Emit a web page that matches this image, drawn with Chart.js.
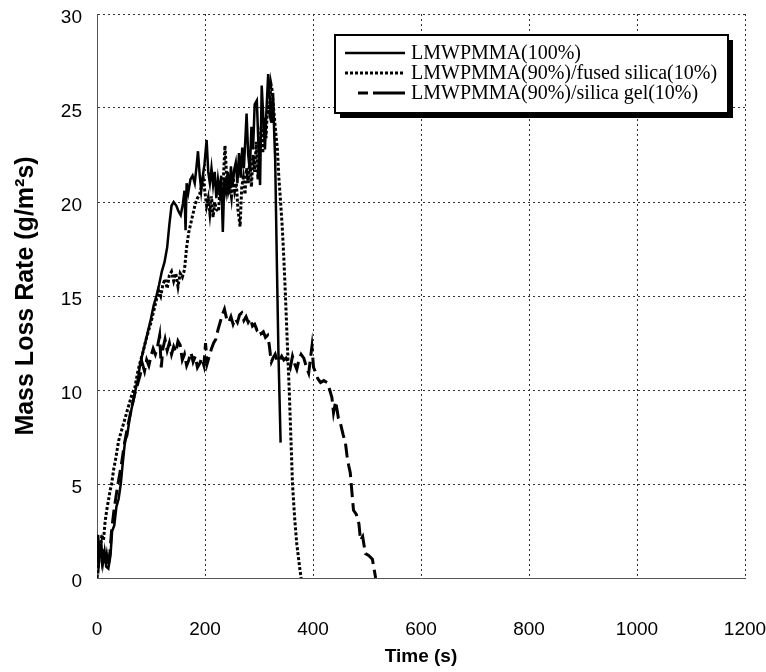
<!DOCTYPE html>
<html lang="en">
<head>
  <meta charset="UTF-8">
  <title>Mass loss rate</title>
  <script src="https://cdn.jsdelivr.net/npm/chart.js@4.4.0/dist/chart.umd.min.js"></script>
  <style>
    body { margin: 0; background: #fff; }
    #wrap { width: 766px; height: 672px; }
  </style>
</head>
<body>
<div id="wrap">
  <canvas id="chart" width="766" height="672"></canvas>
</div>

<script>
// time (s) and mass loss rate (g/m2s)
const pureT = [0,2,5,8,11,14,17,21,25,28,32,36,40,44,48,52,56,60,64,68,72,76,80,85,90,95,100,105,110,115,120,125,130,134,138,142,147,151,155,159,162,164,166,169,173,177,181,184,187,190,193,196,199,203,206,209,212,215,218,221,224,227,230,233,236,239,242,245,248,251,254,257,260,263,266,269,272,275,277,280,283,286,289,292,296,299,302,305,308,311,314,317,320,323,326,328,330,333,336,340];
const pureY = [1.0,2.3,1.2,1.8,0.8,1.4,0.6,0.5,1.2,2.5,2.8,3.8,4.2,5.0,6.2,7.3,7.6,8.4,9.0,9.5,10.1,10.6,11.4,12.0,12.6,13.2,13.8,14.5,15.0,15.6,16.3,16.8,17.6,18.8,19.8,20.0,19.8,19.5,19.3,19.9,20.6,18.5,21.0,20.5,21.2,21.4,21.0,21.8,22.7,21.5,20.6,21.4,22.0,23.3,21.6,21.0,21.8,20.9,21.6,20.2,21.2,20.5,21.4,18.4,21.3,20.6,21.6,20.4,21.9,20.8,21.7,22.1,21.0,22.6,21.3,22.9,21.8,23.5,24.7,22.5,21.7,24.0,22.8,25.2,25.4,23.0,20.9,26.2,24.5,22.8,25.0,26.8,25.5,24.2,25.8,23.8,22.2,16.9,12.0,7.2];

const fusedT = [0,3,6,9,12,15,18,21,24,27,31,35,40,45,50,55,60,65,70,75,80,85,90,95,100,105,110,114,118,122,126,130,134,138,142,146,150,154,158,162,166,170,174,178,182,186,190,194,197,200,203,206,209,212,215,218,221,225,228,231,234,237,240,243,246,249,252,255,258,261,265,268,271,274,277,280,283,286,289,292,295,298,301,304,307,310,313,316,319,322,324,327,330,334,337,340,343,346,349,352,356,359,362,366,370,373,376,378];
const fusedY = [0.0,0.8,1.5,2.3,2.0,3.0,3.6,4.1,4.6,5.0,5.8,6.4,7.3,7.8,8.3,8.8,9.3,9.8,10.1,10.9,11.5,12.0,12.6,13.1,13.6,14.2,14.8,15.3,15.0,15.6,15.9,15.4,16.1,16.3,15.8,16.2,15.5,16.2,16.0,16.4,17.6,18.4,18.9,19.4,19.9,20.2,20.4,20.9,21.2,20.5,19.8,20.2,19.4,20.3,19.2,20.0,19.6,19.5,20.8,20.0,21.2,23.0,21.4,20.6,21.0,20.3,21.4,20.6,21.0,19.6,18.7,20.8,21.3,20.4,21.8,21.0,22.3,20.8,22.5,21.6,23.2,21.2,22.8,24.0,22.6,24.5,23.4,25.2,24.8,26.3,26.0,25.0,24.0,22.8,21.2,20.0,18.7,17.0,15.0,12.8,10.0,7.5,5.0,3.2,1.8,1.1,0.4,0.0];

const gelT = [0,3,6,9,12,15,18,21,24,27,31,35,40,45,50,55,60,65,70,75,80,84,88,92,96,100,104,108,112,116,119,122,126,130,134,138,142,146,150,154,158,162,166,170,174,178,182,186,190,194,198,201,204,208,212,216,220,224,228,232,236,240,244,248,252,256,260,264,268,272,276,280,284,288,292,296,300,304,308,312,316,319,321,323,326,330,334,338,342,346,350,354,358,362,366,370,374,378,383,388,392,395,398,401,404,409,414,420,426,431,435,438,442,447,451,456,460,463,466,469,472,475,480,485,488,492,497,503,510,513,516];
const gelY = [1.5,0.8,1.8,1.0,1.6,0.7,1.2,0.6,1.4,2.5,3.5,4.3,5.2,6.0,7.0,7.8,8.5,9.2,9.8,10.3,10.8,11.4,11.0,11.6,11.3,11.8,12.2,11.9,12.3,12.9,11.2,12.2,12.7,12.1,12.5,11.9,12.3,12.0,12.6,12.4,11.6,11.9,11.3,11.6,12.0,11.5,11.8,11.2,11.4,11.7,11.3,12.5,11.4,11.8,12.2,12.5,12.7,13.2,13.6,14.0,14.3,13.8,13.6,13.9,13.5,13.8,13.6,14.0,14.1,13.7,13.9,13.6,13.8,13.4,13.5,13.2,13.3,13.0,13.1,12.8,12.9,12.4,11.9,11.5,11.7,11.9,11.5,11.6,11.8,11.6,11.7,11.5,11.2,11.8,11.4,11.1,11.6,11.9,11.7,11.2,10.9,11.6,12.3,11.2,11.0,10.6,10.4,10.5,10.4,10.0,9.6,8.8,9.4,8.5,8.2,7.6,7.2,6.5,6.0,5.6,4.6,3.6,3.4,2.9,2.0,2.2,1.3,1.2,1.0,0.5,0.0];

const seriesNames = ['LMWPMMA(100%)', 'LMWPMMA(90%)/fused silica(10%)', 'LMWPMMA(90%)/silica gel(10%)'];
const xTicks = [0, 200, 400, 600, 800, 1000, 1200];
const yTicks = [0, 5, 10, 15, 20, 25, 30];

function toPoints(t, y) {
  return t.map((v, i) => ({ x: v, y: y[i] }));
}

// legend drawn as a boxed panel with a drop shadow, like the original
const legendBox = {
  id: 'legendBox',
  afterDatasetsDraw(chart) {
    const ctx = chart.ctx;
    const x = 335, y = 35, w = 393, h = 78;
    const legendDash = [[], [3, 2], [10, 5, 40, 5]];
    const lineStart = [345, 345, 358];
    ctx.save();
    ctx.fillStyle = '#000';
    ctx.fillRect(x + 5, y + 5, w, h);
    ctx.fillStyle = '#fff';
    ctx.fillRect(x, y, w, h);
    ctx.lineWidth = 2;
    ctx.strokeStyle = '#000';
    ctx.strokeRect(x, y, w, h);
    ctx.font = '20px "Liberation Serif", "Times New Roman", serif';
    ctx.textBaseline = 'middle';
    ctx.fillStyle = '#000';
    chart.data.datasets.forEach((ds, i) => {
      const ly = y + 18 + i * 20;
      ctx.lineWidth = ds.borderWidth;
      ctx.setLineDash(legendDash[i]);
      ctx.beginPath();
      ctx.moveTo(lineStart[i], ly);
      ctx.lineTo(405, ly);
      ctx.stroke();
      ctx.setLineDash([]);
      ctx.fillText(ds.label, 411, ly + 1);
    });
    ctx.restore();
  }
};

const gridStyle = { color: '#333', lineWidth: 1, drawTicks: false };
const borderStyle = { color: '#555', width: 1, dash: [2, 3] };
const tickFont = { family: '"Liberation Sans", Arial, sans-serif', size: 19 };

new Chart(document.getElementById('chart'), {
  type: 'line',
  data: {
    datasets: [
      {
        label: seriesNames[0],
        data: toPoints(pureT, pureY),
        borderColor: '#000',
        borderWidth: 2.5,
        pointRadius: 0,
        tension: 0,
        fill: false
      },
      {
        label: seriesNames[1],
        data: toPoints(fusedT, fusedY),
        borderColor: '#000',
        borderWidth: 3,
        borderDash: [3, 2],
        pointRadius: 0,
        tension: 0,
        fill: false
      },
      {
        label: seriesNames[2],
        data: toPoints(gelT, gelY),
        borderColor: '#000',
        borderWidth: 3,
        borderDash: [14, 6],
        pointRadius: 0,
        tension: 0,
        fill: false
      }
    ]
  },
  options: {
    responsive: false,
    animation: false,
    layout: { padding: { top: 14, right: 21, left: 0, bottom: 0 } },
    plugins: {
      legend: { display: false },
      tooltip: { enabled: false }
    },
    scales: {
      x: {
        type: 'linear',
        min: 0,
        max: 1200,
        afterBuildTicks: (s) => { s.ticks = xTicks.map(v => ({ value: v })); },
        afterFit: (s) => { s.height = 94; s.paddingLeft = 0; s.paddingRight = 0; },
        grid: gridStyle,
        border: borderStyle,
        ticks: {
          color: '#000',
          padding: 40,
          maxRotation: 0,
          font: tickFont,
          callback: (v) => String(v)
        },
        title: {
          display: true,
          text: 'Time (s)',
          color: '#000',
          padding: { top: 0, bottom: 4 },
          font: { family: '"Liberation Sans", Arial, sans-serif', size: 19, weight: 'bold' }
        }
      },
      y: {
        min: 0,
        max: 30,
        afterBuildTicks: (s) => { s.ticks = yTicks.map(v => ({ value: v })); },
        afterFit: (s) => { s.width = 97; s.paddingTop = 0; s.paddingBottom = 0; },
        grid: gridStyle,
        border: borderStyle,
        ticks: {
          color: '#000',
          padding: 15,
          labelOffset: 4,
          font: tickFont,
          callback: (v) => String(v)
        },
        title: {
          display: true,
          text: 'Mass Loss Rate (g/m²s)',
          color: '#000',
          padding: { top: 11, bottom: 0 },
          font: { family: '"Liberation Sans", Arial, sans-serif', size: 25, weight: 'bold' }
        }
      }
    }
  },
  plugins: [legendBox]
});
</script>
</body>
</html>
